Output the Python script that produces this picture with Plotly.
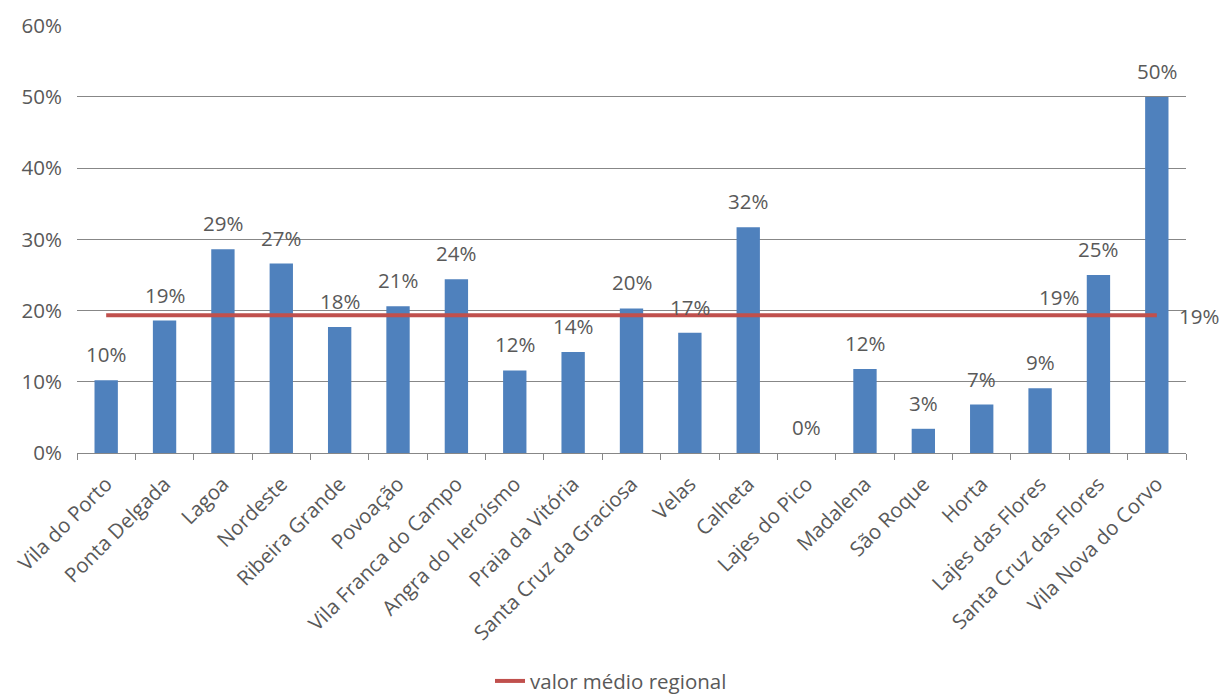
import plotly.graph_objects as go

categories = ["Vila do Porto", "Ponta Delgada", "Lagoa", "Nordeste", "Ribeira Grande",
              "Povoação", "Vila Franca do Campo", "Angra do Heroísmo", "Praia da Vitória",
              "Santa Cruz da Graciosa", "Velas", "Calheta", "Lajes do Pico", "Madalena",
              "São Roque", "Horta", "Lajes das Flores", "Santa Cruz das Flores",
              "Vila Nova do Corvo"]
values = [10.2, 18.6, 28.6, 26.6, 17.7, 20.6, 24.4, 11.6, 14.2, 20.3, 16.9, 31.7,
          0.0, 11.8, 3.4, 6.8, 9.1, 25.0, 50.0]
regional_mean = 19.35
line_name = "valor médio regional"
ytick_vals = [0, 10, 20, 30, 40, 50, 60]
ytick_text = ["0%", "10%", "20%", "30%", "40%", "50%", "60%"]

FONT = "Open Sans"
TXT = "#595959"
FS = 20.5

fig = go.Figure()
fig.add_trace(go.Bar(x=categories, y=values, marker=dict(color="#4F81BD", line=dict(width=0)),
                     showlegend=False, hoverinfo="x+y"))
fig.add_trace(go.Scatter(x=categories, y=[regional_mean] * len(categories), mode="lines",
                         name=line_name, line=dict(color="#C0504D", width=4)))

annotations = []
for c, v in zip(categories, values):
    annotations.append(dict(x=c, y=v, text=f"{round(v)}%", showarrow=False,
                            yanchor="middle", yshift=26,
                            font=dict(family=FONT, size=FS, color=TXT)))
# line data labels
annotations.append(dict(x=categories[16], y=regional_mean, text=f"{round(regional_mean)}%",
                        showarrow=False, yanchor="middle", xshift=19, yshift=18,
                        font=dict(family=FONT, size=FS, color=TXT)))
annotations.append(dict(x=categories[18], y=regional_mean, text=f"{round(regional_mean)}%",
                        showarrow=False, yanchor="middle", xanchor="left", xshift=20, yshift=-1,
                        font=dict(family=FONT, size=FS, color=TXT)))

fig.update_layout(
    width=1222, height=695,
    margin=dict(l=77, r=36, t=25, b=242),
    paper_bgcolor="white", plot_bgcolor="white",
    bargap=0.6,
    font=dict(family=FONT, size=FS, color=TXT),
    annotations=annotations,
    legend=dict(orientation="h", x=0.5, xanchor="center", xref="container",
                y=0.02, yanchor="middle", yref="container",
                font=dict(family=FONT, size=FS, color=TXT)),
    xaxis=dict(type="category", range=[-0.5, len(categories) - 0.5], tickangle=-45,
               tickson="boundaries", ticks="outside",
               ticklen=6, tickcolor="#878787", showline=True, linecolor="#878787",
               linewidth=1, showgrid=False, automargin=False, ticklabelstandoff=10,
               tickfont=dict(family=FONT, size=FS, color=TXT)),
    yaxis=dict(range=[0, 60.1], tickvals=ytick_vals, ticktext=ytick_text, showgrid=True,
               gridcolor="#878787", gridwidth=1, showline=False, zeroline=False,
               ticks="", ticklabelstandoff=14, automargin=False,
               tickfont=dict(family=FONT, size=FS, color=TXT)),
)

fig.write_html("out.html", config={"displayModeBar": False},
               post_script="document.body.style.margin='0';")
